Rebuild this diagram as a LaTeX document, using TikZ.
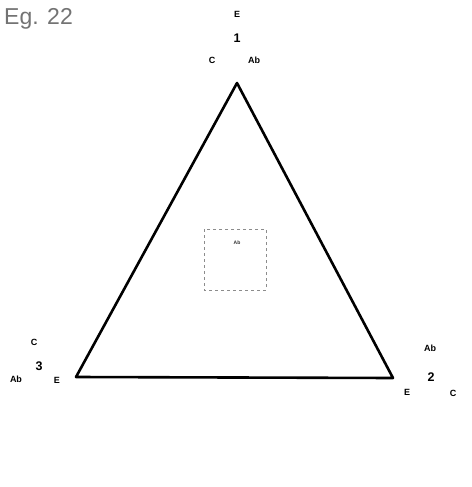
\documentclass[tikz,border=0pt]{standalone}
\usepackage{fontspec}
\setmainfont{Liberation Sans}
\begin{document}
\begin{tikzpicture}[x=1pt,y=-1pt,
  lbl/.style={font=\bfseries\fontsize{9}{10}\selectfont, inner sep=0pt},
  num/.style={font=\bfseries\fontsize{12.5}{13}\selectfont, inner sep=0pt},
  edge/.style={line width=2.6pt, line join=round, line cap=round},
  faint/.style={draw=black!45, dashed, line width=0.5pt}]
\useasboundingbox (0,0) rectangle (471,487);
\fill[white] (0,0) rectangle (471,487);
% title
\node[anchor=west, inner sep=0pt, text=black!55, font=\fontsize{23}{24}\selectfont] (title) at (4,19) {Eg. 22};
% triangle vertices
\coordinate (v1) at (237,83);
\coordinate (v3) at (76,377);
\coordinate (v2) at (393,378);
\draw[edge] (v1) -- (v2) -- (v3) -- cycle;
% vertex 1 labels
\node[lbl] (t1e) at (237,14) {E};
\node[num] (t1n) at (237,38) {1};
\node[lbl] (t1c) at (212,60) {C};
\node[lbl] (t1a) at (254,60) {Ab};
% vertex 3 labels
\node[lbl] (t3c) at (34,342) {C};
\node[num] (t3n) at (39,366) {3};
\node[lbl] (t3a) at (16,379) {Ab};
\node[lbl] (t3e) at (57,380) {E};
% vertex 2 labels
\node[lbl] (t2a) at (430,348) {Ab};
\node[num] (t2n) at (431,377) {2};
\node[lbl] (t2e) at (407,392) {E};
\node[lbl] (t2c) at (453,393) {C};
% centre dashed box
\draw[faint] (204,229) rectangle (266,290);
\node[lbl, font=\bfseries\fontsize{5}{6}\selectfont, text=black!80] (cab) at (237,243) {Ab};
\end{tikzpicture}
\end{document}
